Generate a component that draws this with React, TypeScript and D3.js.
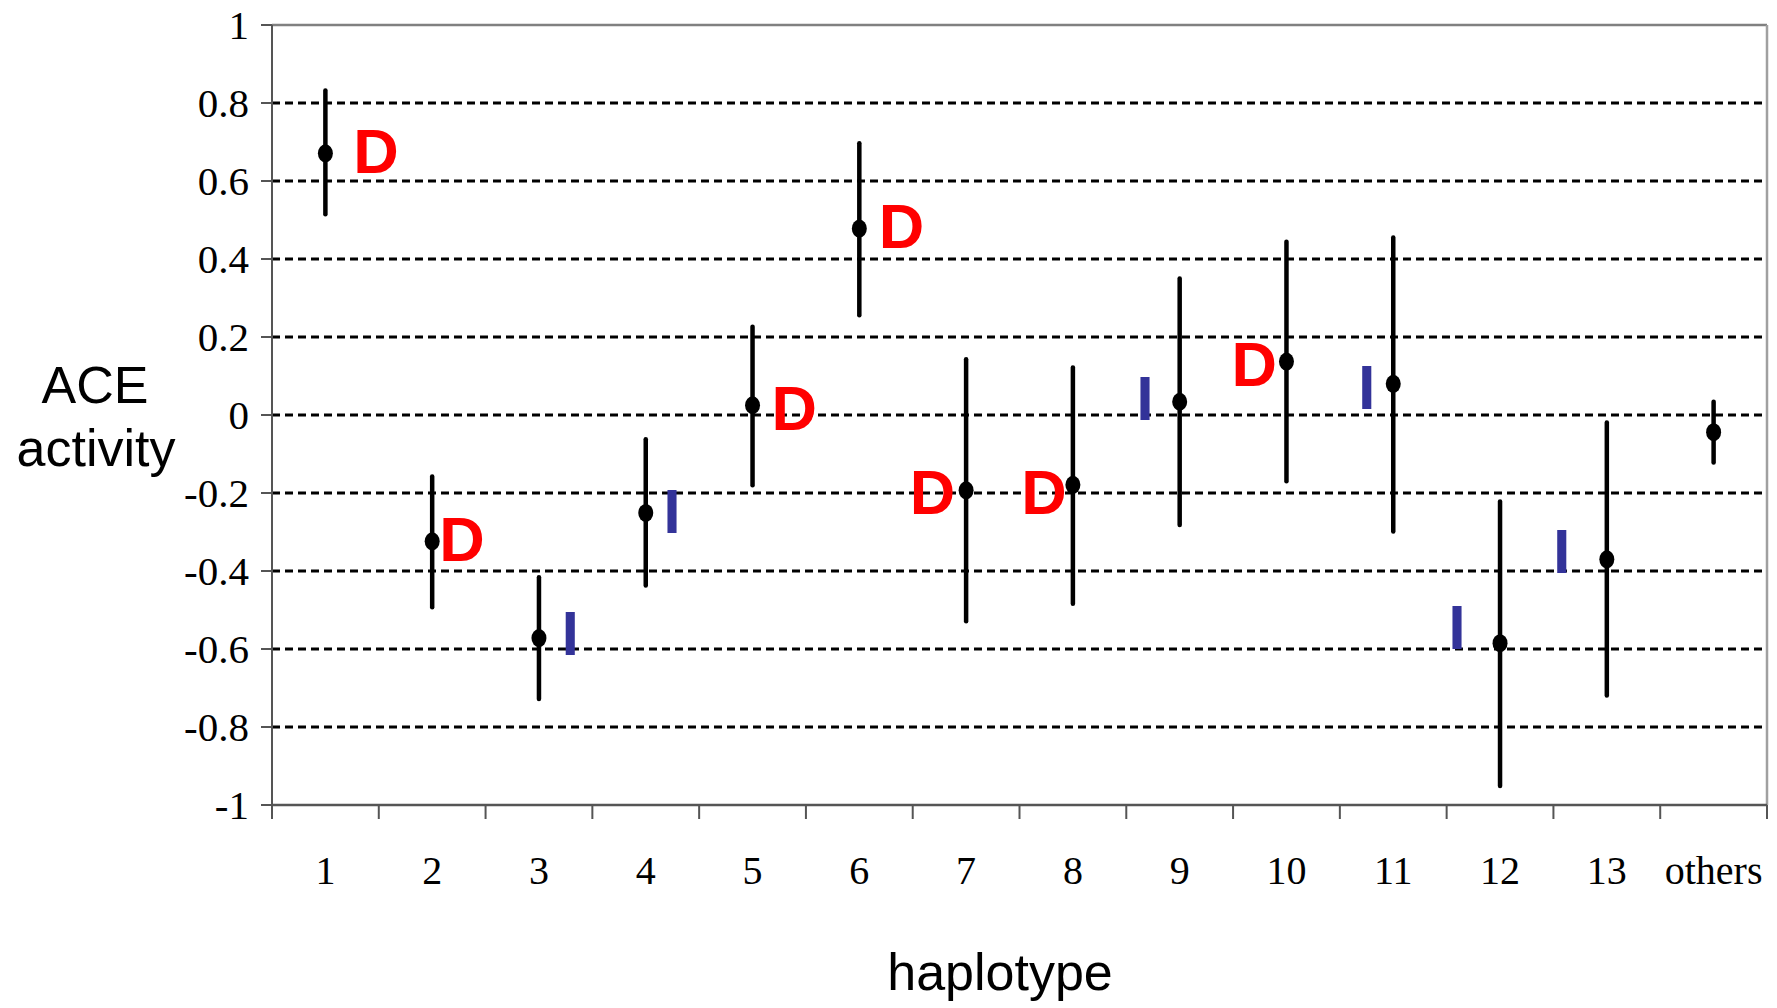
import React from "react";
import * as d3 from "d3";

const categories = ["1", "2", "3", "4", "5", "6", "7", "8", "9", "10", "11", "12", "13", "others"];
const means = [0.671, -0.324, -0.572, -0.251, 0.025, 0.478, -0.193, -0.179, 0.034, 0.137, 0.08, -0.585, -0.37, -0.044];
const lowers = [0.515, -0.493, -0.728, -0.437, -0.18, 0.256, -0.529, -0.484, -0.282, -0.17, -0.299, -0.951, -0.719, -0.122];
const uppers = [0.832, -0.158, -0.416, -0.062, 0.226, 0.697, 0.143, 0.122, 0.35, 0.444, 0.455, -0.222, -0.019, 0.034];
// allele annotation per haplotype (D / I), its vertical anchor value and its position within the category band
const alleles = ["D", "D", "I", "I", "D", "D", "D", "D", "I", "D", "I", "I", "I", ""];
const alleleValues = [0.677, -0.316, -0.558, -0.246, 0.019, 0.485, -0.195, -0.195, 0.046, 0.132, 0.072, -0.543, -0.348, 0];
const allelePos = [0.474, 0.279, 0.293, 0.245, 0.39, 0.394, -0.314, -0.27, -0.325, -0.301, -0.247, -0.404, -0.421, 0];
const yTicks = [1, 0.8, 0.6, 0.4, 0.2, 0, -0.2, -0.4, -0.6, -0.8, -1];
const yTickLabels = ["1", "0.8", "0.6", "0.4", "0.2", "0", "-0.2", "-0.4", "-0.6", "-0.8", "-1"];

const W = 1777;
const H = 1008;
const left = 272;
const right = 1767;
const top = 25;
const bottom = 805;

export default function App() {
  const x = d3.scaleBand<string>().domain(categories).range([left, right]).padding(0);
  const y = d3.scaleLinear().domain([-1, 1]).range([bottom, top]);
  const bw = x.bandwidth();
  const cx = (c: string) => (x(c) as number) + bw / 2;
  const serif = "'Liberation Serif', 'Times New Roman', Times, serif";
  const sans = "'Liberation Sans', Arial, Helvetica, sans-serif";
  const boundaries = d3.range(categories.length + 1).map((i) => left + i * bw);

  return (
    <div style={{ position: "absolute", left: 0, top: 0, width: W, height: H, background: "#fff" }}>
      <svg width={W} height={H} viewBox={`0 0 ${W} ${H}`} style={{ display: "block" }}>
        <rect x={0} y={0} width={W} height={H} fill="#fff" />
        {/* gridlines */}
        {yTicks
          .filter((t) => t !== 1 && t !== -1)
          .map((t) => (
            <line key={"g" + t} x1={left} x2={right} y1={y(t)} y2={y(t)} stroke="#000" strokeWidth={3} strokeDasharray="8,5" />
          ))}
        {/* plot border top/right */}
        <line x1={left} x2={right} y1={y(1)} y2={y(1)} stroke="#808080" strokeWidth={2.5} />
        <line x1={right} x2={right} y1={y(1)} y2={y(-1)} stroke="#a0a0a0" strokeWidth={2.5} />
        {/* y axis */}
        <line x1={left} x2={left} y1={y(1)} y2={y(-1) + 14} stroke="#555" strokeWidth={2} />
        {yTicks.map((t) => (
          <line key={"yt" + t} x1={left - 11} x2={left} y1={y(t)} y2={y(t)} stroke="#555" strokeWidth={2} />
        ))}
        {yTicks.map((t, i) => (
          <text key={"yl" + t} x={249} y={y(t) + 13.5} textAnchor="end" fontFamily={serif} fontSize={41} fill="#000">
            {yTickLabels[i]}
          </text>
        ))}
        {/* x axis */}
        <line x1={left} x2={right} y1={y(-1)} y2={y(-1)} stroke="#555" strokeWidth={2.5} />
        {boundaries.map((b, i) => (
          <line key={"xt" + i} x1={b} x2={b} y1={y(-1)} y2={y(-1) + 14} stroke="#555" strokeWidth={2} />
        ))}
        {categories.map((c) => (
          <text key={"xl" + c} x={cx(c)} y={884} textAnchor="middle" fontFamily={serif} fontSize={40} fill="#000">
            {c}
          </text>
        ))}
        {/* error bars and points */}
        {categories.map((c, i) => (
          <g key={"p" + c}>
            <line x1={cx(c)} x2={cx(c)} y1={y(lowers[i])} y2={y(uppers[i])} stroke="#000" strokeWidth={4.5} strokeLinecap="round" />
            <ellipse cx={cx(c)} cy={y(means[i])} rx={7.5} ry={9} fill="#000" />
          </g>
        ))}
        {/* allele labels */}
        {categories.map((c, i) =>
          alleles[i] ? (
            <text
              key={"a" + c}
              x={cx(c) + allelePos[i] * bw}
              y={y(alleleValues[i]) + 22.5}
              textAnchor="middle"
              fontFamily={sans}
              fontWeight="bold"
              fontSize={63}
              fill={alleles[i] === "D" ? "#ff0000" : "#333399"}
            >
              {alleles[i]}
            </text>
          ) : null
        )}
        {/* axis titles */}
        <text x={95} y={403} textAnchor="middle" fontFamily={sans} fontSize={52} fill="#000">
          ACE
        </text>
        <text x={96} y={466} textAnchor="middle" fontFamily={sans} fontSize={52} fill="#000">
          activity
        </text>
        <text x={1000} y={990} textAnchor="middle" fontFamily={sans} fontSize={52} fill="#000">
          haplotype
        </text>
      </svg>
    </div>
  );
}
